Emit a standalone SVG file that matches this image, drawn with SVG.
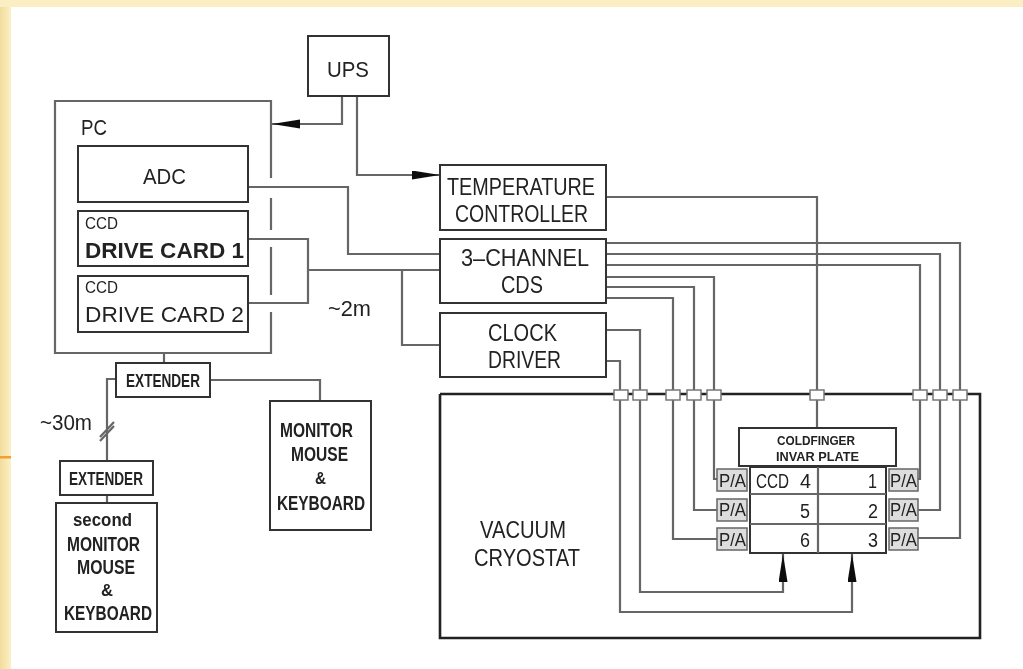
<svg xmlns="http://www.w3.org/2000/svg" width="1023" height="669" viewBox="0 0 1023 669">
<style>
.b{fill:#fff;stroke:#333;stroke-width:2}
.c{fill:none;stroke:#666;stroke-width:2.2}
.k{fill:none;stroke:#222;stroke-width:2.6}
.t{font-family:"Liberation Sans",Arial,sans-serif;fill:#222;text-anchor:start}
.l{font-size:24px}.m{font-size:22px}.d{font-size:20px}.s{font-size:16px}.x{font-size:12px;font-weight:bold}
.p{fill:#ddd;stroke:#666;stroke-width:1.5}
.q{fill:#fff;stroke:#777;stroke-width:1.5}
</style>
<defs>
<linearGradient id="bg" x1="0" x2="1" y1="0" y2="0"><stop offset="0" stop-color="#f2dc9c"/><stop offset="1" stop-color="#fcf0c6"/></linearGradient>
<filter id="soft" filterUnits="userSpaceOnUse" x="0" y="0" width="1023" height="669"><feGaussianBlur stdDeviation="0.6"/></filter>
<marker id="a" markerUnits="userSpaceOnUse" markerWidth="30" markerHeight="10" refX="28" refY="4.5" orient="auto"><path d="M0 0L28 4.5L0 9z" fill="#111"/></marker>
</defs>
<rect width="1023" height="669" fill="#fff"/>
<rect width="11" height="669" fill="url(#bg)"/>
<rect width="1023" height="7" fill="#fbeec2"/>
<rect x="0" y="456" width="11" height="2.5" fill="#f0a030"/>
<g filter="url(#soft)">
<g id="connectors">
<path class="c" d="M342 96V124H272" marker-end="url(#a)"/>
<path class="c" d="M357 96V175H440" marker-end="url(#a)"/>
<path class="c" d="M248 187H348V254H440"/>
<path class="c" d="M248 239H308V303H248M308 270H440M402 270V345H440"/>
<path class="c" d="M606 197H817V428"/>
<path class="c" d="M606 243H960V538H918"/>
<path class="c" d="M606 254H940V510H918"/>
<path class="c" d="M606 265H920V479H918"/>
<path class="c" d="M606 277H714V479H717"/>
<path class="c" d="M606 287H694V510H717"/>
<path class="c" d="M606 298H673V539H717"/>
<path class="c" d="M606 330H640V592H783V554" marker-end="url(#a)"/>
<path class="c" d="M606 361H620V612H852V554" marker-end="url(#a)"/>
<path class="c" d="M164 353V363M116 379H107V461M100 437L114 422M100 441L114 426M107 495V503M210 380H320V401"/>
</g>
<g id="pc">
<path class="c" d="M271 178V101H55V353H271V312M271 198V230M271 247V295"/>
<text class="t m" x="81" y="135" textLength="26" lengthAdjust="spacingAndGlyphs">PC</text>
</g>
<g id="adc"><rect class="b" x="78" y="146" width="170" height="56"/><text class="t m" x="143" y="184" textLength="43" lengthAdjust="spacingAndGlyphs">ADC</text></g>
<g id="card1"><rect class="b" x="78" y="211" width="170" height="55"/><text class="t s" x="85" y="229" textLength="33" lengthAdjust="spacingAndGlyphs">CCD</text><text class="t m" font-weight="bold" x="85" y="258" textLength="159" lengthAdjust="spacingAndGlyphs">DRIVE  CARD  1</text></g>
<g id="card2"><rect class="b" x="78" y="276" width="170" height="56"/><text class="t s" x="85" y="293" textLength="33" lengthAdjust="spacingAndGlyphs">CCD</text><text class="t m" x="85" y="322" textLength="159" lengthAdjust="spacingAndGlyphs">DRIVE  CARD  2</text></g>
<g id="ups"><rect class="b" x="308" y="36" width="81" height="60"/><text class="t m" x="327" y="77" textLength="42" lengthAdjust="spacingAndGlyphs">UPS</text></g>
<g id="temperature"><rect class="b" x="440" y="165" width="166" height="65"/><text class="t l" x="447" y="195" textLength="148" lengthAdjust="spacingAndGlyphs">TEMPERATURE</text><text class="t l" x="455" y="222" textLength="133" lengthAdjust="spacingAndGlyphs">CONTROLLER</text></g>
<g id="cds"><rect class="b" x="440" y="239" width="166" height="64"/><text class="t l" x="461" y="266" textLength="128" lengthAdjust="spacingAndGlyphs">3–CHANNEL</text><text class="t l" x="501" y="293" textLength="42" lengthAdjust="spacingAndGlyphs">CDS</text></g>
<g id="clock"><rect class="b" x="440" y="313" width="166" height="64"/><text class="t l" x="488" y="341" textLength="69" lengthAdjust="spacingAndGlyphs">CLOCK</text><text class="t l" x="488" y="368" textLength="73" lengthAdjust="spacingAndGlyphs">DRIVER</text></g>
<text class="t m" x="328" y="316" textLength="43" lengthAdjust="spacingAndGlyphs">~2m</text>
<text class="t m" x="40" y="430" textLength="52" lengthAdjust="spacingAndGlyphs">~30m</text>
<g id="extender1"><rect class="b" x="116" y="363" width="94" height="34"/><text class="t" font-size="18" font-weight="bold" x="126" y="387" textLength="74" lengthAdjust="spacingAndGlyphs">EXTENDER</text></g>
<g id="extender2"><rect class="b" x="60" y="461" width="93" height="34"/><text class="t" font-size="18" font-weight="bold" x="69" y="485" textLength="74" lengthAdjust="spacingAndGlyphs">EXTENDER</text></g>
<g id="monitor" font-weight="bold"><rect class="b" x="270" y="401" width="101" height="129"/>
<text class="t" font-size="21" x="280" y="437" textLength="73" lengthAdjust="spacingAndGlyphs">MONITOR</text><text class="t" font-size="21" x="291" y="461" textLength="57" lengthAdjust="spacingAndGlyphs">MOUSE</text><text class="t" font-size="17" x="315" y="484" textLength="11" lengthAdjust="spacingAndGlyphs">&amp;</text><text class="t" font-size="21" x="277" y="510" textLength="88" lengthAdjust="spacingAndGlyphs">KEYBOARD</text></g>
<g id="second" font-weight="bold"><rect class="b" x="56" y="503" width="101" height="129"/>
<text class="t" font-size="19" x="73" y="526" textLength="59" lengthAdjust="spacingAndGlyphs">second</text><text class="t" font-size="21" x="67" y="551" textLength="73" lengthAdjust="spacingAndGlyphs">MONITOR</text><text class="t" font-size="21" x="77" y="574" textLength="58" lengthAdjust="spacingAndGlyphs">MOUSE</text><text class="t" font-size="17" x="101" y="596" textLength="12" lengthAdjust="spacingAndGlyphs">&amp;</text><text class="t" font-size="21" x="64" y="620" textLength="88" lengthAdjust="spacingAndGlyphs">KEYBOARD</text></g>
<g id="cryostat">
<path class="k" d="M440 394V638H980V394H440"/>
<text class="t l" x="480" y="538" textLength="86" lengthAdjust="spacingAndGlyphs">VACUUM</text><text class="t l" x="474" y="566" textLength="106" lengthAdjust="spacingAndGlyphs">CRYOSTAT</text>
</g>
<g id="feedthroughs">
<rect class="q" x="614" y="390" width="14" height="10"/><rect class="q" x="633" y="390" width="14" height="10"/><rect class="q" x="666" y="390" width="14" height="10"/><rect class="q" x="687" y="390" width="14" height="10"/><rect class="q" x="707" y="390" width="14" height="10"/><rect class="q" x="810" y="390" width="14" height="10"/><rect class="q" x="913" y="390" width="14" height="10"/><rect class="q" x="933" y="390" width="14" height="10"/><rect class="q" x="953" y="390" width="14" height="10"/>
</g>
<g id="coldfinger"><rect class="b" x="739" y="428" width="157" height="38"/><text class="t x" x="777" y="445" textLength="78" lengthAdjust="spacingAndGlyphs">COLDFINGER</text><text class="t x" x="776" y="461" textLength="83" lengthAdjust="spacingAndGlyphs">INVAR  PLATE</text></g>
<g id="ccds"><rect class="b" x="750" y="467" width="136" height="86"/><path class="c" d="M750 494H886M750 524H886M818 467V553"/>
<text class="t d" x="756" y="488" textLength="33" lengthAdjust="spacingAndGlyphs">CCD</text><text class="t d" x="800" y="488" textLength="11" lengthAdjust="spacingAndGlyphs">4</text><text class="t d" x="800" y="518" textLength="10" lengthAdjust="spacingAndGlyphs">5</text><text class="t d" x="800" y="547" textLength="10" lengthAdjust="spacingAndGlyphs">6</text><text class="t d" x="868" y="488" textLength="9" lengthAdjust="spacingAndGlyphs">1</text><text class="t d" x="868" y="518" textLength="10" lengthAdjust="spacingAndGlyphs">2</text><text class="t d" x="868" y="547" textLength="10" lengthAdjust="spacingAndGlyphs">3</text></g>
<g id="preamps">
<rect class="p" x="717" y="469" width="30" height="22"/><rect class="p" x="717" y="499" width="30" height="22"/><rect class="p" x="717" y="528" width="30" height="22"/><rect class="p" x="889" y="469" width="29" height="22"/><rect class="p" x="889" y="499" width="29" height="22"/><rect class="p" x="889" y="528" width="29" height="22"/>
<text class="t" font-size="18" x="719" y="487" textLength="27" lengthAdjust="spacingAndGlyphs">P/A</text><text class="t" font-size="18" x="719" y="516" textLength="27" lengthAdjust="spacingAndGlyphs">P/A</text><text class="t" font-size="18" x="719" y="546" textLength="27" lengthAdjust="spacingAndGlyphs">P/A</text><text class="t" font-size="18" x="890" y="487" textLength="27" lengthAdjust="spacingAndGlyphs">P/A</text><text class="t" font-size="18" x="890" y="516" textLength="27" lengthAdjust="spacingAndGlyphs">P/A</text><text class="t" font-size="18" x="890" y="546" textLength="27" lengthAdjust="spacingAndGlyphs">P/A</text>
</g>
</g>
</svg>
